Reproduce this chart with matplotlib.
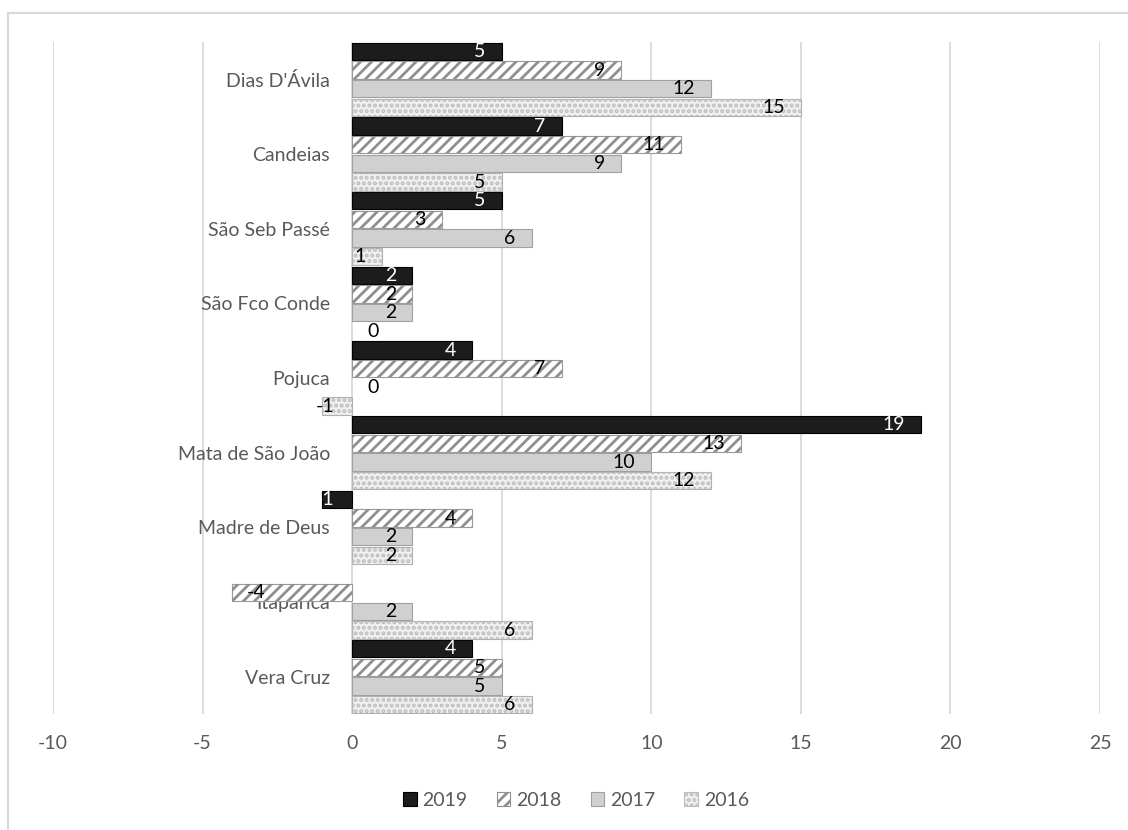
import matplotlib.pyplot as plt
from matplotlib.patches import Patch, Rectangle
import numpy as np

categories = ["Vera Cruz", "Itaparica", "Madre de Deus", "Mata de São João", "Pojuca",
              "São Fco Conde", "São Seb Passé", "Candeias", "Dias D'Ávila"]
years = ["2019", "2018", "2017", "2016"]
v2019 = [4, 0, -1, 19, 4, 2, 5, 7, 5]
v2018 = [5, -4, 4, 13, 7, 2, 3, 11, 9]
v2017 = [5, 2, 2, 10, 0, 2, 6, 9, 12]
v2016 = [6, 6, 2, 12, -1, 0, 1, 5, 15]
xticks = [-10, -5, 0, 5, 10, 15, 20, 25]

plt.rcParams['font.family'] = ['Lato', 'DejaVu Sans']
plt.rcParams['hatch.linewidth'] = 2.0
plt.rcParams['axes.unicode_minus'] = False

# face, hatch, hatch colour, edge, label colour
styles = {
    "2019": ('#1c1c1c', None, None, '#000000', 'white'),
    "2018": ('#ffffff', '///', '#8f8f8f', '#9a9a9a', 'black'),
    "2017": ('#d0d0d0', None, None, '#a0a0a0', 'black'),
    "2016": ('#f0f0f0', '...', '#bdbdbd', '#b0b0b0', 'black'),
}

fig = plt.figure(figsize=(11.28, 8.3), dpi=100)
ax = fig.add_axes([53 / 1128, 1 - 714 / 830, 1047 / 1128, 672 / 830])

grey = '#595959'
fs = 14
y = np.arange(len(categories))
h = 0.25
offsets = [0.375, 0.125, -0.125, -0.375]

for yr, vals, off in zip(years, [v2019, v2018, v2017, v2016], offsets):
    face, hatch, hcol, edge, lcol = styles[yr]
    pos = y + off
    lws = [0.8 if v != 0 else 0 for v in vals]
    ax.barh(pos, vals, height=h * 0.92, color=face, edgecolor=edge, linewidth=lws, zorder=2)
    if hatch:
        ax.barh(pos, vals, height=h * 0.92, color='none', edgecolor=hcol, linewidth=0,
                hatch=hatch, zorder=3)
    for p, v in zip(pos, vals):
        if v > 0:
            ax.annotate(str(v), (v, p), xytext=(-16, 0), textcoords='offset pixels',
                        ha='right', va='center', fontsize=fs, color=lcol, zorder=5)
        elif v == 0:
            ax.annotate(str(v), (v, p), xytext=(15, 0), textcoords='offset pixels',
                        ha='left', va='center', fontsize=fs, color=lcol, zorder=5)
        elif v <= -2:
            ax.annotate(str(v), (v, p), xytext=(14, 0), textcoords='offset pixels',
                        ha='left', va='center', fontsize=fs, color=lcol, zorder=5)
        else:
            ax.annotate(str(v), (v, p), xytext=(3, 0), textcoords='offset pixels',
                        ha='center', va='center', fontsize=fs, color=lcol, zorder=5)

ax.set_xlim(-10, 25)
ax.set_ylim(-0.5, len(categories) - 0.5)
ax.set_xticks(xticks)
ax.set_yticks(y)
ax.set_yticklabels(categories)
ax.xaxis.grid(True, color='#d9d9d9', linewidth=1.3, zorder=0)
ax.set_axisbelow(True)
for s in ['top', 'right', 'bottom']:
    ax.spines[s].set_visible(False)
ax.spines['left'].set_position(('data', 0))
ax.spines['left'].set_visible(False)
ax.tick_params(axis='y', length=0, pad=16, labelsize=fs, labelcolor=grey)
ax.tick_params(axis='x', length=0, pad=15, labelsize=fs, labelcolor=grey)

handles = []
for yr in years:
    face, hatch, hcol, edge, lcol = styles[yr]
    handles.append(Patch(facecolor=face, edgecolor=hcol if hatch else edge, hatch=hatch,
                         linewidth=0.8))
fig.legend(handles, years, loc='center', bbox_to_anchor=(576 / 1128, 1 - 800 / 830), ncol=4,
           frameon=False, fontsize=fs, labelcolor=grey, handlelength=0.7, handleheight=0.7,
           handletextpad=0.3, columnspacing=1.5)

fig.patches.append(Rectangle((8 / 1128, -0.1), 1.2, 1 - 13 / 830 + 0.1, transform=fig.transFigure,
                             fill=False, edgecolor='#d9d9d9', linewidth=1.5))

fig.savefig('out.png', dpi=100)
